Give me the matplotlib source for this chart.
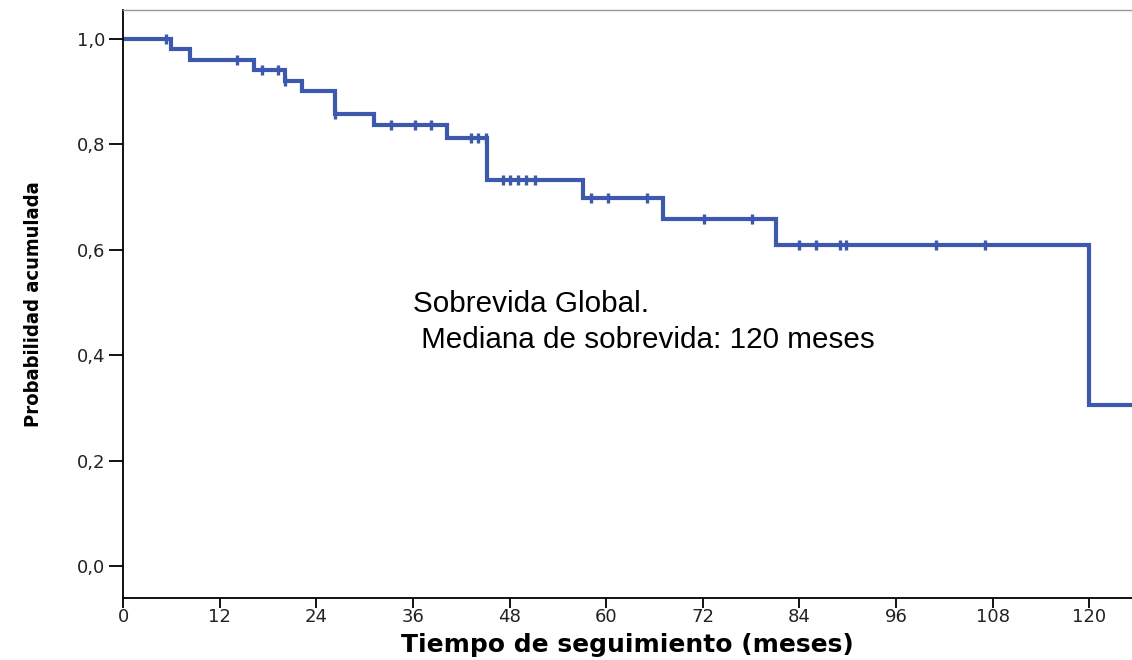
import matplotlib.pyplot as plt
import numpy as np

# curva de Kaplan-Meier
tiempos_evento = [6.0, 8.3, 16.3, 20.1, 22.2, 26.3, 31.2, 40.2, 45.2, 57.1, 67.1, 81.1, 120.0]
supervivencia = [1.0, 0.980, 0.961, 0.941, 0.920, 0.901, 0.858, 0.836, 0.813,
                 0.733, 0.699, 0.658, 0.609, 0.305]
fin_seguimiento = 126.0

tiempos_censura = [5.3, 14.2, 17.2, 19.3, 20.1, 26.3, 33.3, 36.2, 38.2, 43.2, 44.1,
                   45.1, 47.2, 48.1, 49.1, 50.1, 51.1, 58.1, 60.2, 65.1, 72.1, 78.1,
                   84.0, 86.0, 89.0, 89.8, 101.0, 107.0]

xticks = [0, 12, 24, 36, 48, 60, 72, 84, 96, 108, 120]
yticks = [0.0, 0.2, 0.4, 0.6, 0.8, 1.0]
ytick_labels = ["0,0", "0,2", "0,4", "0,6", "0,8", "1,0"]

color = "#3D59AD"

fig = plt.figure(figsize=(11.32, 6.6), dpi=100)
ax = fig.add_axes([0.1087, 0.0939, 0.8913, 0.891])

x = [0] + tiempos_evento + [fin_seguimiento]
y = supervivencia + [supervivencia[-1]]
ax.step(x, y, where="post", color=color, lw=3.0, solid_joinstyle="miter")

idx = np.searchsorted(tiempos_evento, tiempos_censura, side="right")
y_cens = np.array(supervivencia)[idx]
ax.plot(tiempos_censura, y_cens, ls="none", marker="|", ms=7, mew=2.4, color=color)

ax.set_xlim(0, 125.3)
ax.set_ylim(-0.0607, 1.055)
ax.set_xticks(xticks)
ax.set_xticklabels([str(t) for t in xticks], fontsize=13, color="#222222",
                   family="DejaVu Sans")
ax.set_yticks(yticks)
ax.set_yticklabels(ytick_labels, fontsize=13, color="#222222", family="DejaVu Sans")
ax.tick_params(axis="y", length=10, width=1.3, pad=3)
ax.tick_params(axis="x", length=7, width=1.3, pad=0)

ax.spines["right"].set_visible(False)
ax.spines["top"].set_color("#999999")
ax.spines["top"].set_linewidth(1.0)
ax.spines["left"].set_linewidth(1.3)
ax.spines["bottom"].set_linewidth(1.3)

ax.set_xlabel("Tiempo de seguimiento (meses)", fontsize=18, fontweight="bold",
              family="DejaVu Sans", labelpad=5)
ax.set_ylabel("Probabilidad acumulada", fontsize=14.5, fontweight="bold",
              family="DejaVu Sans", fontstretch="condensed", labelpad=24)

ax.text(36.0, 0.524, "Sobrevida Global.\n Mediana de sobrevida: 120 meses",
        fontsize=21.3, family=["Liberation Sans", "DejaVu Sans"],
        va="top", ha="left", linespacing=1.38)

fig.savefig("out.png", dpi=100)
